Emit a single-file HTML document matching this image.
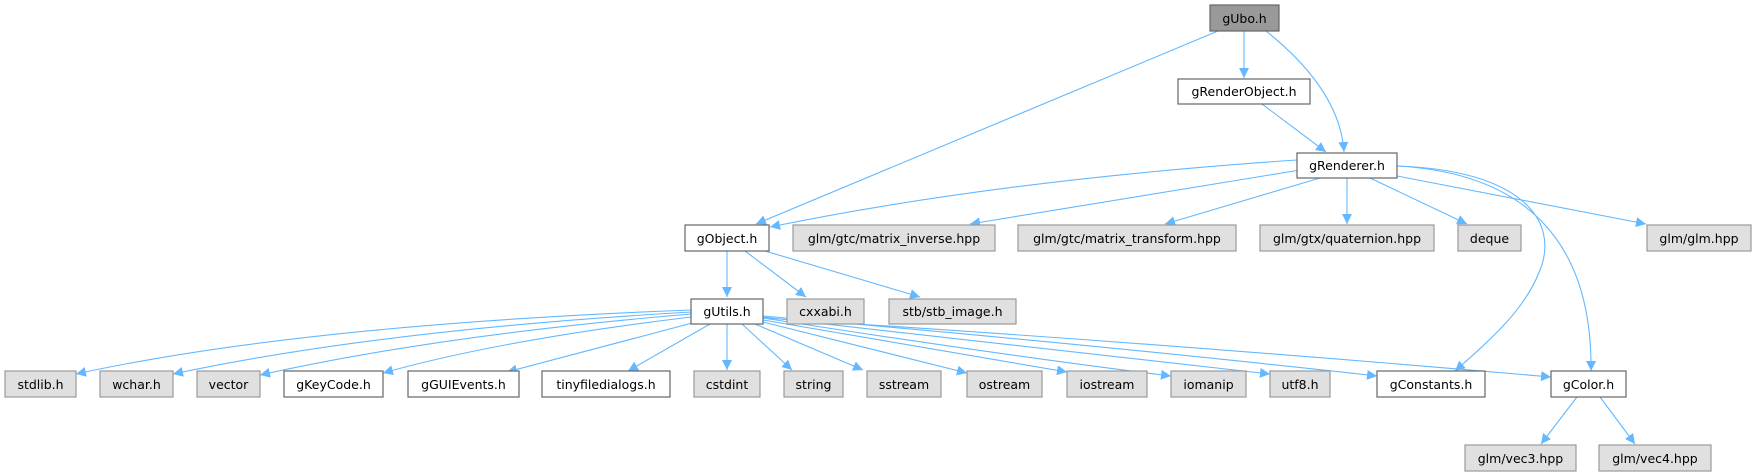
<!DOCTYPE html>
<html><head><meta charset="utf-8"><style>
html,body{margin:0;padding:0;background:#fff;}
svg{display:block;}
text{font-family:"DejaVu Sans","Liberation Sans",sans-serif;font-size:12.5px;fill:#000;text-anchor:middle;}
.w{fill:#fff;stroke:#666;stroke-width:1.2}
.g{fill:#e0e0e0;stroke:#999;stroke-width:1.2}
.d{fill:#999;stroke:#666;stroke-width:1.2}
.e{fill:none;stroke:#63b8ff;stroke-width:1.1;marker-end:url(#a)}
</style></head><body>
<svg width="1757" height="476" viewBox="0 0 1757 476" xmlns="http://www.w3.org/2000/svg">
<defs><marker id="a" viewBox="0 0 10 10" refX="10" refY="5" markerWidth="10" markerHeight="10" markerUnits="userSpaceOnUse" orient="auto"><path d="M0,0 L10,5 L0,10 z" fill="#63b8ff"/></marker></defs>
<!-- edges -->
<path class="e" d="M1218,31 L756,224"/>
<path class="e" d="M1244,31 L1244,78"/>
<path class="e" d="M1266,31 Q1340,90 1344,152"/>
<path class="e" d="M1262,104 L1326,152"/>
<path class="e" d="M1297,160 Q1000,180 770,227"/>
<path class="e" d="M1300,170 L970,224"/>
<path class="e" d="M1320,178 L1165,224"/>
<path class="e" d="M1347,178 L1347,224"/>
<path class="e" d="M1370,178 L1467,224"/>
<path class="e" d="M1397,176 L1646,224"/>
<path class="e" d="M1397,166 C1520,170 1560,220 1540,270 C1525,310 1490,340 1455,371"/>
<path class="e" d="M1397,166 C1560,175 1592,280 1591,371"/>
<path class="e" d="M727,251 L727,297"/>
<path class="e" d="M745,251 L806,297"/>
<path class="e" d="M765,251 L920,297"/>
<path class="e" d="M691,310 Q300,325 76,374"/>
<path class="e" d="M691,312 Q380,330 173,374"/>
<path class="e" d="M691,314 Q440,335 260,375"/>
<path class="e" d="M691,317 Q500,340 383,373"/>
<path class="e" d="M696,322 L507,372"/>
<path class="e" d="M710,324 L628,371"/>
<path class="e" d="M727,324 L727,370"/>
<path class="e" d="M742,324 L792,370"/>
<path class="e" d="M755,324 L863,370"/>
<path class="e" d="M763,322 L967,373"/>
<path class="e" d="M763,320 L1067,372"/>
<path class="e" d="M763,318 Q1000,355 1171,376"/>
<path class="e" d="M763,317 Q1050,350 1270,374"/>
<path class="e" d="M763,316 Q1100,345 1377,376"/>
<path class="e" d="M763,318 Q1150,342 1551,377"/>
<path class="e" d="M1577,397 L1541,444"/>
<path class="e" d="M1600,397 L1635,444"/>
<!-- nodes -->
<rect class="d" x="1210" y="5" width="69" height="26"/><text x="1244.5" y="23">gUbo.h</text>
<rect class="w" x="1178" y="79" width="132" height="25"/><text x="1244" y="96">gRenderObject.h</text>
<rect class="w" x="1297" y="153" width="100" height="25"/><text x="1347" y="170">gRenderer.h</text>

<rect class="w" x="685" y="225" width="84" height="26"/><text x="727" y="243">gObject.h</text>
<rect class="g" x="793" y="225" width="202" height="26"/><text x="894" y="243">glm/gtc/matrix_inverse.hpp</text>
<rect class="g" x="1018" y="225" width="218" height="26"/><text x="1127" y="243">glm/gtc/matrix_transform.hpp</text>
<rect class="g" x="1260" y="225" width="174" height="26"/><text x="1347" y="243">glm/gtx/quaternion.hpp</text>
<rect class="g" x="1458" y="225" width="63" height="26"/><text x="1489.5" y="243">deque</text>
<rect class="g" x="1647" y="225" width="104" height="26"/><text x="1699" y="243">glm/glm.hpp</text>

<rect class="w" x="691" y="299" width="72" height="25"/><text x="727" y="316">gUtils.h</text>
<rect class="g" x="787" y="299" width="77" height="25"/><text x="825.5" y="316">cxxabi.h</text>
<rect class="g" x="889" y="299" width="127" height="25"/><text x="952.5" y="316">stb/stb_image.h</text>

<rect class="g" x="5" y="371" width="71" height="26"/><text x="40.5" y="389">stdlib.h</text>
<rect class="g" x="100" y="371" width="73" height="26"/><text x="136.5" y="389">wchar.h</text>
<rect class="g" x="197" y="371" width="63" height="26"/><text x="228.5" y="389">vector</text>
<rect class="w" x="284" y="371" width="99" height="26"/><text x="333.5" y="389">gKeyCode.h</text>
<rect class="w" x="408" y="371" width="111" height="26"/><text x="463.5" y="389">gGUIEvents.h</text>
<rect class="w" x="542" y="371" width="128" height="26"/><text x="606" y="389">tinyfiledialogs.h</text>
<rect class="g" x="694" y="371" width="66" height="26"/><text x="727" y="389">cstdint</text>
<rect class="g" x="784" y="371" width="59" height="26"/><text x="813.5" y="389">string</text>
<rect class="g" x="867" y="371" width="74" height="26"/><text x="904" y="389">sstream</text>
<rect class="g" x="967" y="371" width="75" height="26"/><text x="1004.5" y="389">ostream</text>
<rect class="g" x="1067" y="371" width="80" height="26"/><text x="1107" y="389">iostream</text>
<rect class="g" x="1171" y="371" width="75" height="26"/><text x="1208.5" y="389">iomanip</text>
<rect class="g" x="1270" y="371" width="60" height="26"/><text x="1300" y="389">utf8.h</text>
<rect class="w" x="1377" y="371" width="108" height="26"/><text x="1431" y="389">gConstants.h</text>
<rect class="w" x="1551" y="371" width="75" height="26"/><text x="1588.5" y="389">gColor.h</text>

<rect class="g" x="1465" y="445" width="111" height="26"/><text x="1520.5" y="463">glm/vec3.hpp</text>
<rect class="g" x="1599" y="445" width="112" height="26"/><text x="1655" y="463">glm/vec4.hpp</text>
</svg>
</body></html>
